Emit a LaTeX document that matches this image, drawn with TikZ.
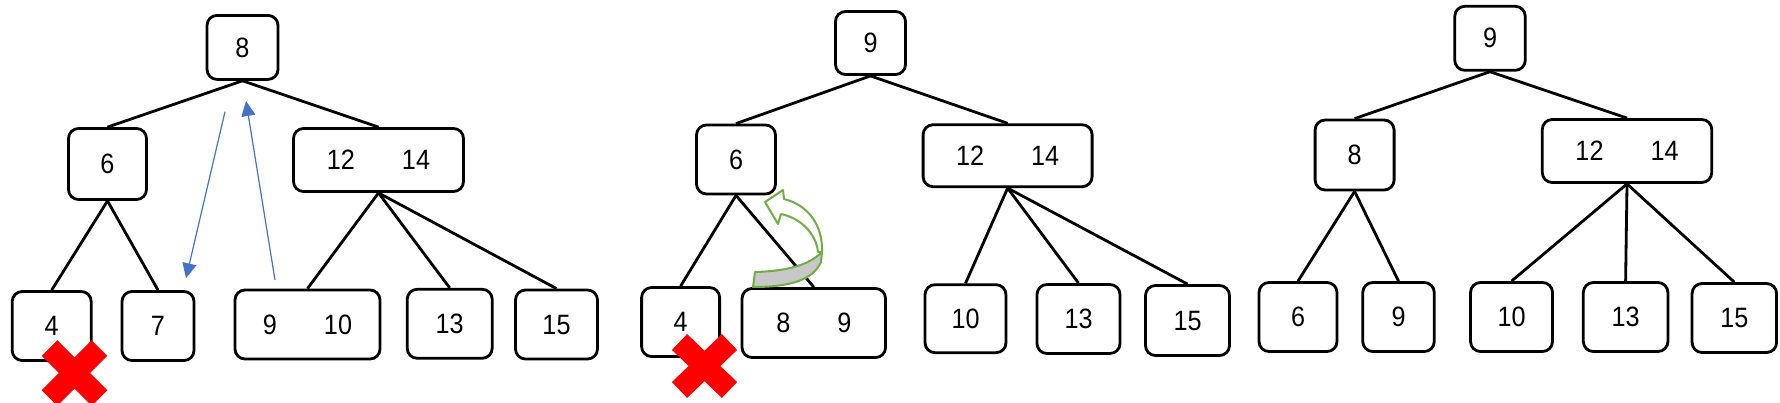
\documentclass[tikz,border=0pt]{standalone}
\usepackage{fontspec}
\setmainfont[FakeStretch=0.9]{Liberation Sans}
\usetikzlibrary{arrows.meta}
\definecolor{blueArrow}{HTML}{4472C4}
\definecolor{greenArrow}{HTML}{70AD47}
\definecolor{grayFace}{HTML}{C8C8C8}
\newcommand{\kgap}{\hspace{23.5pt}}
\begin{document}
\begin{tikzpicture}[x=0.5pt,y=-0.5pt,
  keybox/.style={draw, line width=1.4pt, rounded corners=5pt, inner sep=0pt,
    font=\fontsize{14}{16}\selectfont},
  treeedge/.style={line width=1.4pt},
  moveArrow/.style={draw=blueArrow, line width=0.6pt, -{Triangle[length=7.5pt,width=7pt]}},
  cross/.style={draw=red, line width=11pt},
  bendArrow/.style={draw=greenArrow, line width=1pt, line join=round}]
\useasboundingbox (0,0) rectangle (1780,402);

% ---------- tree 1 ----------
\node[keybox, minimum width=35.5pt, minimum height=32pt]   (t1r) at (242.5,47.4) {8};
\node[keybox, minimum width=39pt,   minimum height=35.5pt] (t1a) at (107.5,164) {6};
\node[keybox, minimum width=85pt,   minimum height=31.5pt] (t1b) at (378.5,160) {12\kgap 14};
\node[keybox, minimum width=39.5pt, minimum height=34.5pt] (t1c) at (51.7,326) {4};
\node[keybox, minimum width=36pt,   minimum height=34.5pt] (t1d) at (158,326) {7};
\node[keybox, minimum width=72.5pt, minimum height=34.5pt] (t1e) at (307.5,324.5) {9\kgap 10};
\node[keybox, minimum width=42.5pt, minimum height=34.5pt] (t1f) at (449.7,323.8) {13};
\node[keybox, minimum width=41pt,   minimum height=34.5pt] (t1g) at (556.5,324.5) {15};
\draw[treeedge] (t1r.south) -- (t1a.north);
\draw[treeedge] (t1r.south) -- (t1b.north);
\draw[treeedge] (t1a.south) -- (t1c.north);
\draw[treeedge] (t1a.south) -- (t1d.north);
\draw[treeedge] (t1b.south) -- (t1e.north);
\draw[treeedge] (t1b.south) -- (t1f.north);
\draw[treeedge] (t1b.south) -- (t1g.north);

\coordinate (a1s) at (225,111.7);
\coordinate (a1e) at (186,278.3);
\coordinate (a2s) at (275,280);
\coordinate (a2e) at (246,101);
\draw[moveArrow] (a1s) -- (a1e);
\draw[moveArrow] (a2s) -- (a2e);

\begin{scope}[shift={(74.5,373)}]
  \draw[cross] (-25,-25) -- (25,25) (-25,25) -- (25,-25);
\end{scope}

% ---------- tree 2 ----------
\node[keybox, minimum width=35pt,    minimum height=31.5pt] (t2r) at (870.5,43) {9};
\node[keybox, minimum width=39.5pt,  minimum height=34.5pt] (t2a) at (736,159.5) {6};
\node[keybox, minimum width=84.5pt,  minimum height=31pt]   (t2b) at (1007.6,155.7) {12\kgap 14};
\node[keybox, minimum width=39pt,    minimum height=34.5pt] (t2c) at (680.6,322) {4};
\node[keybox, minimum width=71.75pt, minimum height=34.5pt] (t2d) at (813.8,323) {8\kgap 9};
\node[keybox, minimum width=40.5pt,  minimum height=34pt]   (t2e) at (965.5,318.7) {10};
\node[keybox, minimum width=41.5pt,  minimum height=34.5pt] (t2f) at (1078.5,319) {13};
\node[keybox, minimum width=42pt,    minimum height=35pt]   (t2g) at (1187.5,320.5) {15};
\draw[treeedge] (t2r.south) -- (t2a.north);
\draw[treeedge] (t2r.south) -- (t2b.north);
\draw[treeedge] (t2a.south) -- (t2c.north);
\draw[treeedge] (t2a.south) -- (t2d.north);
\draw[treeedge] (t2b.south) -- (t2e.north);
\draw[treeedge] (t2b.south) -- (t2f.north);
\draw[treeedge] (t2b.south) -- (t2g.north);

% green curved block arrow
\filldraw[bendArrow, fill=white]
  (765,202) -- (783,190) -- (784,199)
  .. controls (808,205) and (823,225) .. (822,252)
  -- (818,252)
  .. controls (816,233) and (800,218) .. (781,214)
  -- (778,224) -- cycle;
\filldraw[bendArrow, fill=grayFace]
  (755,272) .. controls (790,271) and (810,264) .. (822,252)
  -- (821,262)
  .. controls (813,280) and (790,287) .. (753,287) -- cycle;

\begin{scope}[shift={(704.5,366)}]
  \draw[cross] (-25,-24) -- (25,24) (-25,24) -- (25,-24);
\end{scope}

% ---------- tree 3 ----------
\node[keybox, minimum width=35.25pt, minimum height=32pt]   (t3r) at (1490,38.3) {9};
\node[keybox, minimum width=39.5pt,  minimum height=35pt]   (t3a) at (1354.6,155) {8};
\node[keybox, minimum width=84.75pt, minimum height=31.5pt] (t3b) at (1627,151) {12\kgap 14};
\node[keybox, minimum width=39pt,    minimum height=34.5pt] (t3c) at (1298,317) {6};
\node[keybox, minimum width=35.75pt, minimum height=34.5pt] (t3d) at (1398.5,317) {9};
\node[keybox, minimum width=41pt,    minimum height=34.5pt] (t3e) at (1511.5,317) {10};
\node[keybox, minimum width=42.3pt,  minimum height=34.5pt] (t3f) at (1625.6,317) {13};
\node[keybox, minimum width=42.25pt, minimum height=34.5pt] (t3g) at (1734.3,318) {15};
\draw[treeedge] (t3r.south) -- (t3a.north);
\draw[treeedge] (t3r.south) -- (t3b.north);
\draw[treeedge] (t3a.south) -- (t3c.north);
\draw[treeedge] (t3a.south) -- (t3d.north);
\draw[treeedge] (t3b.south) -- (t3e.north);
\draw[treeedge] (t3b.south) -- (t3f.north);
\draw[treeedge] (t3b.south) -- (t3g.north);
\end{tikzpicture}
\end{document}
